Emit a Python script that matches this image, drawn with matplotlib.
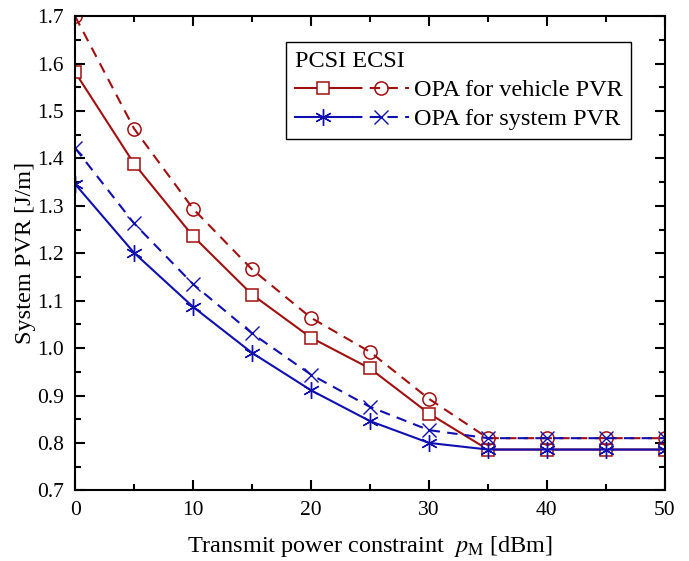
import matplotlib
matplotlib.use("Agg")
import matplotlib.pyplot as plt
from matplotlib.ticker import MultipleLocator, FormatStrFormatter
from matplotlib.legend_handler import HandlerTuple

plt.rcParams['font.family'] = ['Liberation Serif', 'DejaVu Serif']
plt.rcParams['mathtext.fontset'] = 'stix'

########### DATA ###########
power_dbm = [0, 5, 10, 15, 20, 25, 30, 35, 40, 45, 50]
vehicle_pcsi = [1.582, 1.389, 1.236, 1.113, 1.022, 0.957, 0.862, 0.786, 0.786, 0.786, 0.786]
vehicle_ecsi = [1.700, 1.463, 1.294, 1.166, 1.064, 0.992, 0.893, 0.810, 0.810, 0.810, 0.810]
system_pcsi = [1.346, 1.201, 1.087, 0.990, 0.911, 0.846, 0.800, 0.786, 0.786, 0.786, 0.786]
system_ecsi = [1.422, 1.263, 1.135, 1.031, 0.944, 0.876, 0.827, 0.810, 0.810, 0.810, 0.810]
############################

RED = '#A01010'
BLUE = '#1010B0'

fig = plt.figure(figsize=(6.89, 5.61), dpi=100)
ax = fig.add_axes([0.109, 0.126, 0.856, 0.845])

lw = 1.5
l1, = ax.plot(power_dbm, vehicle_pcsi, '-', color=RED, lw=lw, marker='s', ms=8.5,
              mfc='white', mec=RED, mew=1.1)
l2, = ax.plot(power_dbm, vehicle_ecsi, '--', color=RED, lw=lw, marker='o', ms=9.5,
              mfc='none', mec=RED, mew=1.1, dashes=(5, 3.5))
l3, = ax.plot(power_dbm, system_pcsi, '-', color=BLUE, lw=lw, marker=(6, 2, 0), ms=12,
              mec=BLUE, mew=1.0)
l4, = ax.plot(power_dbm, system_ecsi, '--', color=BLUE, lw=lw, marker='x', ms=10,
              mec=BLUE, mew=1.0, dashes=(5, 3.5))

ax.set_xlim(0, 50)
ax.set_ylim(0.7, 1.7)
ax.xaxis.set_major_locator(MultipleLocator(10))
ax.xaxis.set_minor_locator(MultipleLocator(5))
ax.yaxis.set_major_locator(MultipleLocator(0.1))
ax.yaxis.set_minor_locator(MultipleLocator(0.05))
ax.yaxis.set_major_formatter(FormatStrFormatter('%.1f'))
ax.tick_params(which='both', direction='in', top=True, right=True, labelsize=15.5, width=1.5)
ax.tick_params(which='major', length=7, pad=8)
ax.tick_params(which='minor', length=4)
for s in ax.spines.values():
    s.set_linewidth(1.5)

ax.set_xlabel(r'Transmit power constraint  $p_{\mathrm{M}}$ [dBm]', fontsize=17.5, labelpad=10)
ax.set_ylabel('System PVR [J/m]', fontsize=17.5, labelpad=1)

leg = ax.legend([(l1, l2), (l3, l4)], ['OPA for vehicle PVR', 'OPA for system PVR'],
                handler_map={tuple: HandlerTuple(ndivide=None, pad=0)},
                title='PCSI ECSI', alignment='left', fontsize=17.5, title_fontsize=17.5,
                loc='upper right', bbox_to_anchor=(0.943, 0.945), handlelength=4.7,
                handletextpad=0.2, borderaxespad=0, fancybox=False, edgecolor='black',
                framealpha=1, borderpad=0.35, labelspacing=0.3)
leg.get_frame().set_linewidth(1.0)

fig.savefig('out.png', dpi=100)
